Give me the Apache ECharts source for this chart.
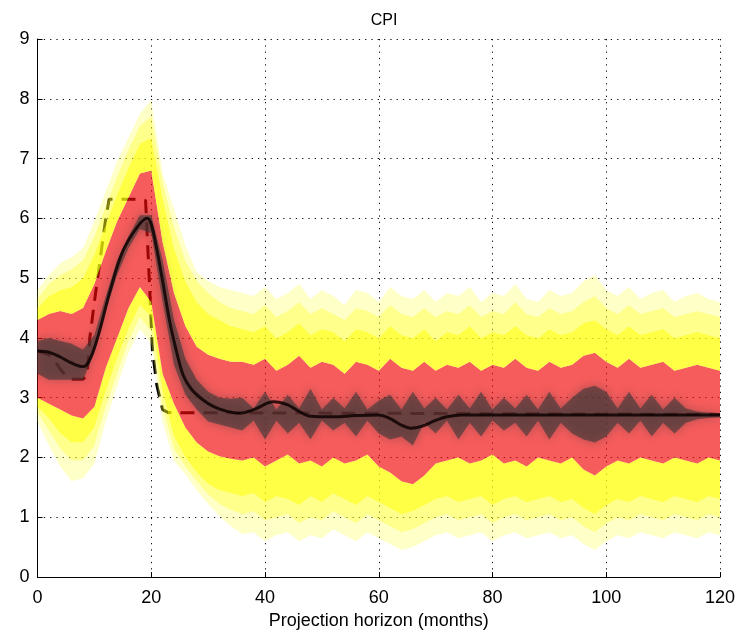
<!DOCTYPE html>
<html><head><meta charset="utf-8">
<script src="https://cdn.jsdelivr.net/npm/echarts@6/dist/echarts.min.js"></script>
<style>html,body{margin:0;padding:0;background:#fff}#c{width:749px;height:638px}</style>
</head><body><div id="c"></div>
<script>
// horizon (months) at which fan quantiles are read
const months = [0,2,4,6,8,10,12,14,16,18,20,22,24,26,28,30,32,34,36,38,40,42,44,46,48,50,52,54,56,58,60,
  62,64,66,68,70,72,74,76,78,80,82,84,86,88,90,92,94,96,98,100,102,104,106,108,110,112,114,116,118,120];

// fan band boundaries, from outermost lower (L0) to outermost upper (U0); L4/U4 = dark core
const L0 = [2.6,2.2,1.85,1.6,1.65,1.9,2.6,3.2,3.75,4.15,3.9,2.6,1.95,1.72,1.45,1.22,1.02,0.85,
  0.72,0.75,0.6,0.7,0.75,0.6,0.7,0.65,0.8,0.7,0.6,0.75,0.65,0.55,0.45,0.5,0.6,0.7,0.75,0.65,0.7,0.75,0.6,0.7,0.75,0.65,0.7,0.75,0.65,0.7,0.55,0.45,0.6,0.7,0.65,0.75,0.7,0.65,0.75,0.7,0.65,0.75,0.7];
const L1 = [2.75,2.45,2.15,1.95,1.95,2.2,2.85,3.4,3.95,4.35,4.1,2.85,2.15,1.85,1.6,1.38,1.22,1.12,
  1.05,1.1,0.95,1.0,1.05,0.9,1.0,0.95,1.1,1.0,0.9,1.05,0.95,0.85,0.75,0.8,0.9,1.0,1.05,0.95,1.0,1.05,0.9,1.0,1.05,0.95,1.0,1.05,0.95,1.0,0.85,0.75,0.9,1.0,0.95,1.05,1.0,0.95,1.05,1.0,0.95,1.05,1.0];
const L2 = [2.85,2.65,2.4,2.25,2.25,2.5,3.1,3.65,4.15,4.55,4.35,3.1,2.35,2.0,1.75,1.55,1.45,1.4,
  1.35,1.4,1.25,1.35,1.3,1.2,1.35,1.25,1.4,1.3,1.2,1.35,1.25,1.15,1.05,1.1,1.2,1.3,1.35,1.25,1.3,1.35,1.2,1.3,1.35,1.25,1.3,1.35,1.25,1.3,1.15,1.05,1.2,1.3,1.25,1.35,1.3,1.25,1.35,1.3,1.25,1.35,1.3];
const L3 = [3.0,2.9,2.8,2.7,2.65,2.85,3.5,4.0,4.5,4.85,4.6,3.4,2.9,2.5,2.25,2.1,2.02,1.98,
  1.95,2.0,1.85,1.95,2.05,1.9,1.95,1.85,2.0,1.9,1.95,2.05,1.85,1.75,1.6,1.55,1.7,1.9,1.95,2.0,1.9,1.95,2.05,1.9,1.95,1.85,2.0,1.95,1.9,2.0,1.8,1.7,1.85,1.95,1.9,2.0,1.95,1.9,2.0,1.95,1.9,2.0,1.95];
const L4 = [3.4,3.3,3.3,3.3,3.3,3.75,4.45,5.05,5.5,5.82,5.75,4.6,3.55,3.05,2.8,2.6,2.55,2.5,
  2.45,2.62,2.3,2.62,2.4,2.58,2.3,2.62,2.45,2.58,2.35,2.62,2.4,2.3,2.35,2.2,2.58,2.4,2.62,2.3,2.58,2.35,2.62,2.45,2.58,2.35,2.62,2.3,2.58,2.4,2.3,2.25,2.35,2.58,2.4,2.62,2.35,2.58,2.4,2.58,2.64,2.66,2.67];
const U4 = [3.95,4.0,3.95,3.9,3.8,4.05,4.7,5.3,5.7,6.05,6.05,5.3,4.3,3.65,3.3,3.1,3.0,2.98,
  3.0,2.82,3.1,2.8,3.05,2.82,3.15,2.8,3.0,2.82,3.1,2.8,2.95,3.05,2.8,3.1,2.82,3.0,2.8,3.05,2.82,3.1,2.8,3.0,2.82,3.05,2.8,3.1,2.82,3.0,3.15,3.2,3.1,2.82,3.1,2.82,3.05,2.8,3.0,2.82,2.77,2.75,2.74];
const U3 = [4.3,4.4,4.45,4.4,4.5,4.9,5.45,5.95,6.35,6.75,6.8,5.6,4.75,4.2,3.85,3.72,3.65,3.6,
  3.6,3.55,3.65,3.45,3.55,3.7,3.5,3.6,3.55,3.4,3.6,3.55,3.45,3.65,3.5,3.45,3.6,3.45,3.55,3.5,3.6,3.45,3.55,3.5,3.65,3.5,3.45,3.6,3.5,3.55,3.7,3.75,3.6,3.5,3.65,3.5,3.55,3.6,3.45,3.5,3.55,3.5,3.45];
const U2 = [4.5,4.7,4.8,4.85,5.0,5.4,5.9,6.4,6.85,7.25,7.35,6.35,5.5,4.95,4.6,4.4,4.3,4.2,
  4.15,4.1,4.2,4.0,4.1,4.25,4.05,4.15,4.1,3.95,4.15,4.1,4.0,4.2,4.05,4.0,4.15,3.95,4.1,4.05,4.2,4.0,4.1,4.05,4.2,4.05,4.0,4.15,4.05,4.1,4.25,4.3,4.15,4.05,4.2,4.05,4.1,4.15,4.0,4.05,4.1,4.05,4.0];
const U1 = [4.65,4.9,5.05,5.15,5.3,5.7,6.2,6.7,7.15,7.55,7.7,6.6,5.85,5.3,4.95,4.75,4.6,4.5,
  4.45,4.4,4.55,4.35,4.45,4.6,4.4,4.5,4.4,4.3,4.5,4.45,4.35,4.55,4.4,4.35,4.5,4.35,4.45,4.4,4.55,4.35,4.45,4.4,4.6,4.4,4.35,4.5,4.4,4.45,4.6,4.7,4.5,4.4,4.55,4.4,4.45,4.5,4.35,4.4,4.45,4.4,4.35];
const U0 = [4.8,5.05,5.25,5.35,5.5,5.95,6.45,6.95,7.35,7.75,7.98,6.75,6.15,5.55,5.1,4.95,4.85,4.8,
  4.75,4.7,4.85,4.65,4.75,4.9,4.65,4.8,4.7,4.55,4.8,4.75,4.6,4.85,4.7,4.65,4.8,4.6,4.75,4.7,4.85,4.6,4.75,4.7,4.9,4.65,4.6,4.8,4.7,4.75,4.95,5.05,4.8,4.7,4.85,4.65,4.75,4.8,4.6,4.7,4.75,4.65,4.6];

// central projection (solid) and alternative scenario (dashed)
const solidX = [0,2,4,6,8,9,10.5,12.8,15,17.5,19.3,20,21,22,23.3,24.5,25.6,27,29,31,33,35.5,38,41.5,44,46,48,52,56,60,62,64,65.6,67.5,70,72,74.5,80,90,100,110,120];
const solidY = [3.78,3.76,3.68,3.58,3.52,3.6,3.98,4.8,5.45,5.85,6.0,5.9,5.47,4.95,4.25,3.75,3.38,3.15,2.97,2.85,2.78,2.74,2.8,2.93,2.88,2.77,2.69,2.68,2.7,2.71,2.65,2.54,2.49,2.52,2.62,2.68,2.71,2.71,2.71,2.71,2.71,2.71];
const dashX = [0,2,3,4,5,6,8,8.7,9.2,10,11,12,12.6,17.5,19,19.5,20.2,21,22,23,120];
const dashY = [3.78,3.72,3.62,3.48,3.36,3.31,3.31,3.36,4.0,4.6,5.3,6.0,6.32,6.32,6.3,5.3,3.8,3.2,2.8,2.75,2.72];

const xTicks = [0,20,40,60,80,100,120];
const yTicks = [0,1,2,3,4,5,6,7,8,9];

const chart = echarts.init(document.getElementById('c'), null, {renderer:'canvas'});
const PALE='rgba(255,255,72,0.3)', LIGHT='rgba(255,255,25,0.5)', YEL='rgba(255,255,8,0.75)', RED='rgba(242,8,8,0.66)';
const bandDefs = [
  [L0, L1, PALE], [L1, L2, LIGHT], [L2, L3, YEL], [L3, U3, RED],
  [U3, U2, YEL], [U2, U1, LIGHT], [U1, U0, PALE]
];
const series = [];
const diff = (lo, hi) => months.map((x,i)=> +(hi[i]-lo[i]).toFixed(4));
series.push({type:'line', xAxisIndex:0, stack:'fan', z:3, symbol:'none', silent:true, lineStyle:{width:0},
  data: L0.slice()});
bandDefs.forEach(([lo,hi,col])=>{
  series.push({type:'line', xAxisIndex:0, stack:'fan', z:3, symbol:'none', silent:true, lineStyle:{width:0},
    areaStyle:{color: col, opacity:1}, data: diff(lo, hi)});
});
// dark core as a translucent overlay
series.push({type:'line', xAxisIndex:0, stack:'core', z:4, symbol:'none', silent:true, lineStyle:{width:0},
  data: L4.slice()});
series.push({type:'line', xAxisIndex:0, stack:'core', z:4, symbol:'none', silent:true, lineStyle:{width:0},
  areaStyle:{color:'rgba(55,55,55,0.6)', opacity:1, shadowBlur:10, shadowColor:'rgba(55,55,55,0.6)'},
  data: diff(L4, U4)});
// dashed scenario sits beneath the translucent fan; central path drawn above it
series.push({type:'line', xAxisIndex:1, z:1, symbol:'none', silent:true,
  lineStyle:{color:'#000', width:3, type:[14,9]}, data: dashX.map((x,i)=>[x, dashY[i]])});
series.push({type:'line', xAxisIndex:1, z:5, symbol:'none', silent:true, smooth:0.35,
  lineStyle:{color:'rgba(10,0,0,0.82)', width:3}, data: solidX.map((x,i)=>[x, solidY[i]])});

const font = 'Liberation Sans, Arial, sans-serif';
chart.setOption({
  animation:false,
  backgroundColor:'#fff',
  title:{text:'CPI', left:379, textAlign:'center', top:8,
    textStyle:{fontFamily:font, fontSize:16, fontWeight:'normal', color:'#000'}},
  grid:{left:37.5, right:29, top:39, bottom:61, containLabel:false},
  xAxis:[
    {type:'category', data: months, boundaryGap:false, show:false},
    {type:'value', min:0, max:120, interval:20, position:'bottom',
    name:'Projection horizon (months)', nameLocation:'middle', nameGap:33,
    nameTextStyle:{fontFamily:font, fontSize:18, color:'#000'},
    axisLine:{show:true, lineStyle:{color:'#000', width:1}},
    axisTick:{show:true, inside:true, length:5, lineStyle:{color:'#000'}},
    axisLabel:{fontFamily:font, fontSize:18, color:'#000', margin:12,
      formatter: v => xTicks.includes(v) ? String(v) : ''},
    splitLine:{show:true, lineStyle:{color:'#111', width:1, type:[1.3,5]}}}
  ],
  yAxis:{type:'value', min:0, max:9, interval:1,
    axisLine:{show:true, lineStyle:{color:'#000', width:1}},
    axisTick:{show:true, inside:true, length:5, lineStyle:{color:'#000'}},
    axisLabel:{fontFamily:font, fontSize:18, color:'#000', margin:8,
      formatter: v => yTicks.includes(v) ? String(v) : ''},
    splitLine:{show:true, lineStyle:{color:'#111', width:1, type:[1.3,5]}}},
  series: series
});
</script></body></html>
